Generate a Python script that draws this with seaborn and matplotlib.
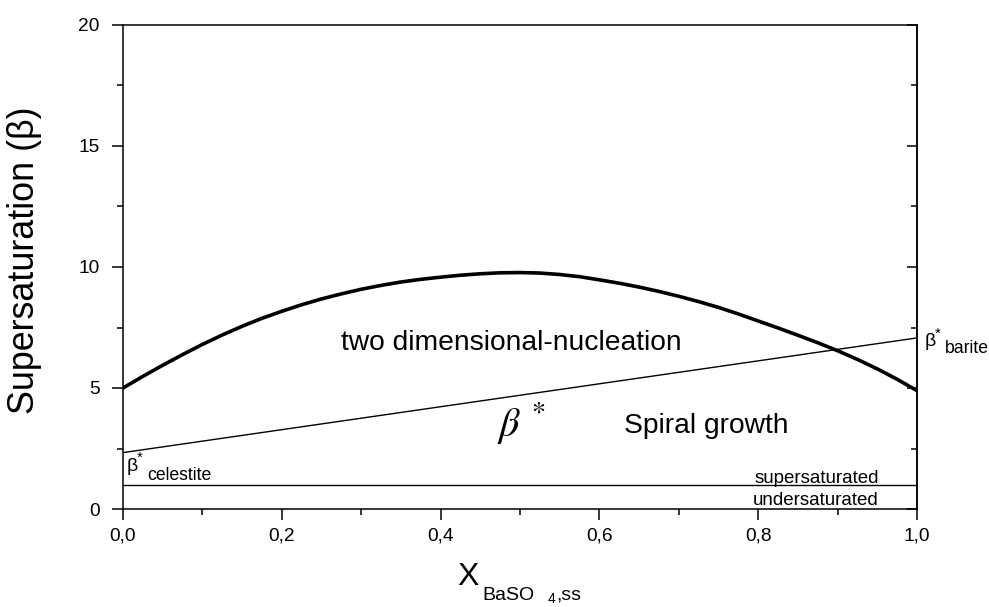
import numpy as np
import pandas as pd
import matplotlib
matplotlib.use("Agg")
import matplotlib.pyplot as plt
import seaborn as sns
from matplotlib.ticker import MultipleLocator, FixedLocator, FixedFormatter

# --- data -------------------------------------------------------------
# boundary between 2D nucleation and spiral growth (critical supersaturation)
x_curve = [0.000, 0.025, 0.050, 0.075, 0.100, 0.125, 0.150, 0.175, 0.200,
           0.225, 0.250, 0.275, 0.300, 0.325, 0.350, 0.375, 0.400, 0.425,
           0.450, 0.475, 0.500, 0.525, 0.550, 0.575, 0.600, 0.625, 0.650,
           0.675, 0.700, 0.725, 0.750, 0.775, 0.800, 0.825, 0.850, 0.875,
           0.900, 0.925, 0.950, 0.975, 1.000]
beta_curve = [5.00, 5.48, 5.94, 6.38, 6.80, 7.19, 7.55, 7.88, 8.17,
              8.44, 8.68, 8.89, 9.08, 9.24, 9.38, 9.49, 9.58, 9.66,
              9.72, 9.76, 9.77, 9.75, 9.69, 9.60, 9.47, 9.33, 9.17,
              8.99, 8.79, 8.57, 8.33, 8.06, 7.77, 7.48, 7.18, 6.87,
              6.54, 6.18, 5.79, 5.36, 4.89]

# beta* line between the celestite and barite end members
x_star = [0.0, 1.0]
beta_star = [2.33, 7.07]

# saturation line
x_sat = [0.0, 1.0]
beta_sat = [1.0, 1.0]

x_ticks = [0.0, 0.2, 0.4, 0.6, 0.8, 1.0]
x_ticklabels = ["0,0", "0,2", "0,4", "0,6", "0,8", "1,0"]
y_ticks = [0, 5, 10, 15, 20]
y_ticklabels = ["0", "5", "10", "15", "20"]

curve_df = pd.DataFrame({"x": x_curve, "beta": beta_curve})
star_df = pd.DataFrame({"x": x_star, "beta": beta_star})
sat_df = pd.DataFrame({"x": x_sat, "beta": beta_sat})

# --- style ------------------------------------------------------------
sns.set_theme(style="ticks")
plt.rcParams["font.family"] = ["Liberation Sans", "DejaVu Sans"]
plt.rcParams.update({
    "text.color": "black",
    "axes.labelcolor": "black",
    "xtick.color": "black",
    "ytick.color": "black",
    "axes.edgecolor": "black",
    "axes.linewidth": 1.1,
})

fig = plt.figure(figsize=(9.89, 6.07), dpi=100)
ax = fig.add_axes([123 / 989, 1 - 509 / 607, 794 / 989, 484 / 607])

sns.lineplot(data=curve_df, x="x", y="beta", ax=ax, color="black", lw=2.6,
             sort=False, estimator=None)
sns.lineplot(data=star_df, x="x", y="beta", ax=ax, color="black", lw=1.0,
             estimator=None)
sns.lineplot(data=sat_df, x="x", y="beta", ax=ax, color="black", lw=1.0,
             estimator=None)

ax.set_xlim(0, 1)
ax.set_ylim(0, 20)

# axes / ticks
for s in ax.spines.values():
    s.set_visible(True)
    s.set_color("black")
    s.set_linewidth(1.1)

ax.xaxis.set_major_locator(FixedLocator(x_ticks))
ax.xaxis.set_major_formatter(FixedFormatter(x_ticklabels))
ax.xaxis.set_minor_locator(MultipleLocator(0.1))
ax.yaxis.set_major_locator(FixedLocator(y_ticks))
ax.yaxis.set_major_formatter(FixedFormatter(y_ticklabels))
ax.yaxis.set_minor_locator(MultipleLocator(2.5))

ax.tick_params(axis="both", which="major", direction="out", length=8,
               width=1.1, labelsize=13.8, pad=5)
ax.tick_params(axis="both", which="minor", direction="out", length=4,
               width=1.1)
ax.tick_params(axis="y", which="major", pad=9)
ax.tick_params(top=False, right=False, which="both")

# inward ticks on the right-hand spine
ax_r = ax.secondary_yaxis("right")
ax_r.yaxis.set_major_locator(FixedLocator(y_ticks))
ax_r.yaxis.set_minor_locator(MultipleLocator(2.5))
ax_r.tick_params(which="major", direction="in", length=7.5, width=1.1,
                 labelright=False)
ax_r.tick_params(which="minor", direction="in", length=4, width=1.1)
ax_r.spines["right"].set_linewidth(1.1)

# axis labels
ax.set_ylabel("Supersaturation (\u03b2)", fontsize=25.8, va="center")
ax.yaxis.set_label_coords(-0.124, 0.514)

# x label: "X" with a two-level subscript "BaSO 4,ss"
ax.set_xlabel("X", fontsize=23, ha="left", va="baseline")
ax.xaxis.set_label_coords(0.4207, -0.157)
ax.text(0.452, -0.188, "BaSO", fontsize=14, ha="left", va="baseline",
        transform=ax.transAxes, clip_on=False)
ax.text(0.5345, -0.195, "4", fontsize=10, ha="left", va="baseline",
        transform=ax.transAxes, clip_on=False)
ax.text(0.5455, -0.188, ",ss", fontsize=14, ha="left", va="baseline",
        transform=ax.transAxes, clip_on=False)
ax.grid(False)

# region labels
ax.text(0.489, 6.57, "two dimensional-nucleation", fontsize=20.3,
        ha="center", va="baseline")
ax.text(0.735, 3.14, "Spiral growth", fontsize=20.3, ha="center",
        va="baseline")
ax.text(0.471, 3.02, r"$\beta^{\,*}$", fontsize=29, ha="left",
        va="baseline", math_fontfamily="stix")
ax.text(0.952, 1.07, "supersaturated", fontsize=13.5, ha="right",
        va="baseline")
ax.text(0.952, 0.16, "undersaturated", fontsize=13.5, ha="right",
        va="baseline")

# end-member labels
ax.text(0.004, 1.57, "\u03b2", fontsize=14, ha="left", va="baseline")
ax.text(0.0175, 1.94, "*", fontsize=11, ha="left", va="baseline")
ax.text(0.030, 1.20, "celestite", fontsize=12.7, ha="left", va="baseline")

ax.text(1.009, 6.74, "\u03b2", fontsize=14, ha="left", va="baseline",
        clip_on=False)
ax.text(1.0225, 7.07, "*", fontsize=11, ha="left", va="baseline",
        clip_on=False)
ax.text(1.035, 6.45, "barite", fontsize=12.7, ha="left", va="baseline",
        clip_on=False)

fig.savefig("out.png", dpi=100, facecolor="white")
